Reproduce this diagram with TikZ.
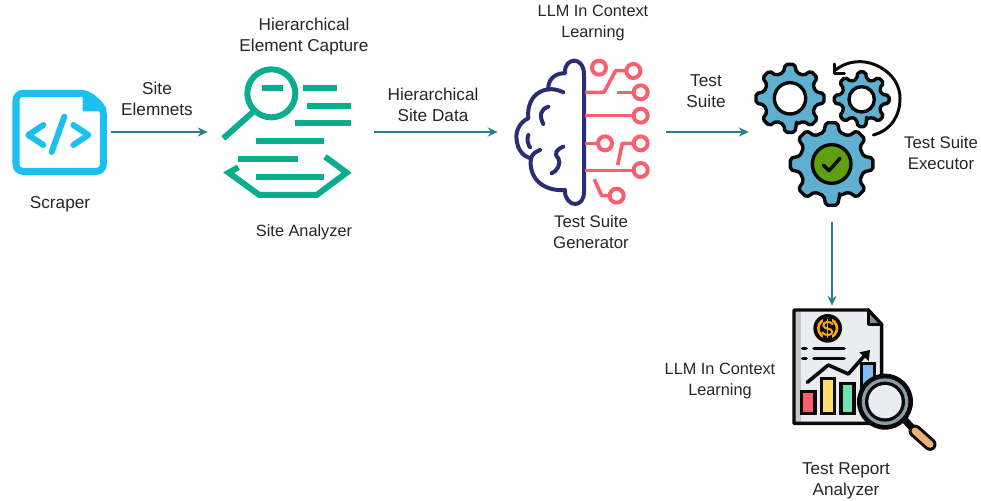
\documentclass[tikz,border=0pt]{standalone}
\usepackage{fontspec}
\setmainfont{Liberation Sans}
\usetikzlibrary{arrows.meta}
\definecolor{conn}{HTML}{2A7F8A}
\definecolor{sky}{HTML}{1CC0F0}
\definecolor{mint}{HTML}{0BAE8C}
\definecolor{navy}{HTML}{2B2D73}
\definecolor{coral}{HTML}{F8606F}
\definecolor{gearblue}{HTML}{5FAFD0}
\definecolor{okgreen}{HTML}{5FA010}
\definecolor{paper}{HTML}{E9EDF1}
\definecolor{ink}{HTML}{0A0A0A}
\definecolor{barred}{HTML}{F8606F}
\definecolor{baryel}{HTML}{FFDD6B}
\definecolor{bargrn}{HTML}{6FE3B5}
\definecolor{barblu}{HTML}{7DBBF0}
\definecolor{coinor}{HTML}{F5A81C}
\definecolor{handle}{HTML}{EDB070}
\definecolor{ringgr}{HTML}{8A9CA8}
\tikzset{
  x=1pt,y=-1pt,
  lbl/.style={align=center,inner sep=0pt,font=\fontsize{17.2}{21}\selectfont,text=black!85},
  lblm/.style={lbl,font=\fontsize{16.8}{21}\selectfont},
  lbls/.style={lbl,font=\fontsize{16.3}{21}\selectfont},
  holder/.style={inner sep=0pt,minimum width=#1},
  flow/.style={conn,line width=1.6pt,-{Stealth[length=10pt,width=9pt]}},
  zoomed/.style={x=.33333pt,y=-.33333pt},
  mintbar/.style={mint,line width=6pt},
  navyl/.style={navy,line width=4pt,line cap=round,line join=round},
  corall/.style={coral,line width=3.6pt,line join=round},
  coralc/.style={coral,line width=4pt,fill=white},
  gearst/.style={draw=ink,fill=gearblue,line width=3.4pt,line join=round},
  blk/.style={ink,line width=3.4pt,line cap=round,line join=round}
}
\newcommand{\gearshape}[6]{% cx cy rout rroot holeR rot
  \draw[gearst,rounded corners=2pt] ([shift={(#1,#2)}]#6-14:#4)
    \foreach \k in {0,...,7}{
      -- ([shift={(#1,#2)}]#6+\k*45-14:#4)
      -- ([shift={(#1,#2)}]#6+\k*45-8:#3)
      -- ([shift={(#1,#2)}]#6+\k*45+8:#3)
      -- ([shift={(#1,#2)}]#6+\k*45+14:#4)
    } -- cycle;
}
\begin{document}
\begin{tikzpicture}
\useasboundingbox (0,0) rectangle (981,500);
% connector anchors: invisible holders of the four icons and the report
\node[holder=104pt,minimum height=100pt] (scraper) at (59,132) {};
\node[holder=166pt,minimum height=100pt] (analyzer) at (291,132) {};
\node[holder=168pt,minimum height=100pt] (generator) at (582,132) {};
\node[holder=166pt,minimum height=180pt] (executor) at (832,132) {};
\node[holder=100pt,minimum height=148pt] (report) at (832,380) {};
\draw[flow] (scraper) -- (analyzer);
\draw[flow] (analyzer) -- (generator);
\draw[flow] (generator) -- (executor);
\draw[flow] (executor) -- (report);

% Scraper icon
\begin{scope}[xshift=0pt,yshift=-70pt,zoomed]
  \draw[sky,line width=7pt,line join=round,rounded corners=7pt] (48,70) -- (262,70) -- (310,112) -- (310,304) -- (48,304) -- cycle;
  \fill[sky] (248,70) -- (262,66) -- (318,112) -- (318,124) -- (248,124) -- cycle;
  \draw[sky,line width=6pt,line cap=round,line join=round] (130,165) -- (85,195) -- (130,225);
  \draw[sky,line width=6pt,line cap=round,line join=round] (220,165) -- (265,195) -- (220,225);
  \draw[sky,line width=6pt,line cap=round] (193,140) -- (155,246);
\end{scope}

% Site analyzer icon
\begin{scope}[xshift=210pt,yshift=-60pt,zoomed]
  \draw[mint,line width=6pt] (184,100) circle (72);
  \draw[mintbar] (136,150) -- (40,235);
  \foreach \a/\b/\c in {155/218/84,280/380/84,290/422/137,255/422/190,138/343/243,85/263/297,138/343/351}
    \draw[mintbar] (\a,\c) -- (\b,\c);
  \draw[mint,line width=6pt,line join=miter] (345,290) -- (410,338) -- (320,405) -- (148,405) -- (56,338) -- (85,322);
\end{scope}

% Brain and circuit icon
\begin{scope}[xshift=505pt,yshift=-50pt,zoomed]
  \draw[navyl] (237,75) .. controls (237,45) and (222,32) .. (208,32)
    .. controls (195,32) and (178,42) .. (180,70)
    .. controls (155,68) and (128,85) .. (130,118)
    .. controls (95,122) and (65,150) .. (70,205)
    .. controls (45,215) and (30,245) .. (35,270)
    .. controls (38,300) and (55,320) .. (78,325);
  \draw[navyl] (130,118) .. controls (145,116) and (160,120) .. (175,127);
  \draw[navyl] (78,325) .. controls (82,312) and (92,305) .. (105,300);
  \draw[navyl] (78,325) .. controls (70,375) and (105,425) .. (180,420)
    .. controls (178,445) and (195,462) .. (210,462)
    .. controls (225,462) and (237,450) .. (237,425) -- (237,75);
  \draw[navyl] (130,170) .. controls (110,175) and (100,195) .. (115,222);
  \draw[navyl] (70,255) .. controls (65,268) and (68,280) .. (75,292);
  \draw[navyl] (175,290) .. controls (155,298) and (145,310) .. (160,325)
    .. controls (170,340) and (155,365) .. (140,370);
  \draw[corall] (240,127) -- (297,127) -- (332,62) -- (365,62);
  \draw[corall] (335,127) -- (387,127);
  \draw[corall] (240,197) -- (385,197);
  \draw[corall] (240,280) -- (278,280);
  \draw[corall] (338,345) -- (352,280) -- (385,280);
  \draw[corall] (240,362) -- (385,362);
  \draw[corall] (268,388) -- (290,437) -- (315,437);
  \foreach \cx/\cy in {282/53,385/63,407/127,407/197,300/280,407/280,407/360,335/437}
    \draw[coralc] (\cx,\cy) circle (21);
\end{scope}

% Test suite executor icon
\begin{scope}[xshift=745pt,yshift=-50pt,zoomed]
  \gearshape{135}{145}{103}{80}{48}{90}
  \draw[ink,line width=3.4pt,fill=white] (135,145) circle (47);
  \gearshape{350}{148}{83}{62}{38}{90}
  \draw[ink,line width=3.4pt,fill=white] (350,148) circle (38);
  \gearshape{260}{342}{125}{98}{58}{90}
  \draw[ink,line width=3.4pt,fill=okgreen] (260,342) circle (58);
  \draw[blk] (235,345) -- (252,362) -- (285,325);
  \draw[blk,line width=3pt] (385,255) .. controls (440,240) and (465,195) .. (465,145)
    .. controls (465,75) and (395,35) .. (345,35)
    .. controls (315,35) and (290,45) .. (272,60);
  \draw[blk,line width=3pt] (268,42) -- (268,72) -- (298,72);
\end{scope}

% Test report analyzer icon
\begin{scope}[xshift=780pt,yshift=-295pt,zoomed]
  \fill[paper] (42,45) -- (265,45) -- (305,88) -- (305,385) -- (42,385) -- cycle;
  \fill[black!22] (44,47) rectangle (62,383);
  \fill[black!45] (265,45) -- (305,88) -- (265,88) -- cycle;
  \draw[blk] (42,45) -- (265,45) -- (305,88) -- (305,385) -- (42,385) -- cycle;
  \draw[blk] (265,45) -- (265,88) -- (305,88);
  \fill[ink] (143,100) circle (43);
  \draw[coinor,line width=2.6pt] (143,100) circle (28);
  \draw[ink,line width=9pt] (143,68) -- (143,132);
  \draw[coinor,line width=2pt,line cap=round] (158,88) .. controls (150,76) and (128,80) .. (130,92) .. controls (132,104) and (156,98) .. (157,110) .. controls (158,122) and (134,124) .. (127,112);
  \draw[coinor,line width=1.6pt] (143,72) -- (143,128);
  \draw[ink,line width=3.6pt,line cap=round] (68,160) -- (78,160) (102,160) -- (192,160) (68,190) -- (78,190) (102,190) -- (192,190);
  \draw[ink,line width=3.6pt,line cap=round,line join=round] (82,262) -- (145,210) -- (205,237) -- (255,180);
  \fill[ink] (238,172) -- (270,165) -- (266,198) -- cycle;
  \foreach \xa/\ya/\xb/\col in {65/290/105/barred,125/250/163/baryel,183/265/222/bargrn,245/205/283/barblu}
    \filldraw[draw=ink,line width=3.4pt,fill=\col] (\xa,\ya) rectangle (\xb,355);
  \draw[ink,line width=7pt] (370,370) -- (405,408);
  \draw[ink,line width=13pt,line cap=round] (405,408) -- (450,448);
  \draw[handle,line width=7pt,line cap=round] (405,408) -- (450,448);
  \fill[ink] (315,320) circle (84);
  \fill[ringgr] (315,320) circle (70);
  \fill[ink] (315,320) circle (60);
  \fill[paper] (315,320) circle (50);
\end{scope}

% Labels
\node[lbl] (t1) at (157,99) {Site\\Elemnets};
\node[lbl] (t2) at (304,37) {Hierarchical\\Element Capture};
\node[lbl] (t3) at (60,204.5) {Scraper};
\node[lbls] (t4) at (304,232.5) {Site Analyzer};
\node[lbl] (t5) at (433,105) {Hierarchical\\Site Data};
\node[lbls] (t6) at (593,23) {LLM In Context\\Learning};
\node[lbl] (t7) at (706,91) {Test\\Suite};
\node[lblm] (t8) at (591,232) {Test Suite\\Generator};
\node[lblm] (t9) at (941,153) {Test Suite\\Executor};
\node[lbls] (t10) at (720,381) {LLM In Context\\Learning};
\node[lbl] (t11) at (846,481) {Test Report\\Analyzer};
\end{tikzpicture}
\end{document}
